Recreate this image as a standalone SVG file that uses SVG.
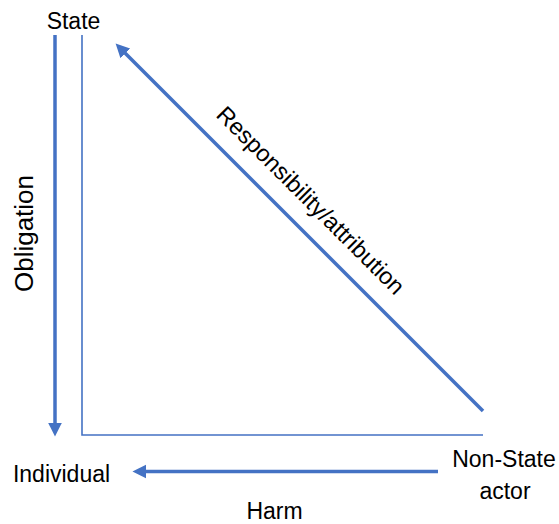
<svg xmlns="http://www.w3.org/2000/svg" width="559" height="524" viewBox="0 0 559 524">
  <style>
    .lbl { font-family: "Liberation Sans", Arial, sans-serif; font-size: 23px; fill: #000000; }
    .arrow { stroke: #4472C4; stroke-width: 3.5; fill: none; }
    .axis { stroke: #4472C4; stroke-width: 1.6; fill: none; }
  </style>
  <defs>
    <marker id="head" markerUnits="userSpaceOnUse" markerWidth="16" markerHeight="16" viewBox="0 -7 14 14" refX="1" refY="0" orient="auto">
      <path d="M0,-6 L12,0 L0,6 z" fill="#4472C4"/>
    </marker>
  </defs>
  <g id="axes">
    <polyline class="axis" points="82,35 82,435 483,435"/>
  </g>
  <g id="connectors">
    <line id="obligation-arrow" class="arrow" x1="55" y1="35" x2="55" y2="424" marker-end="url(#head)"/>
    <line id="responsibility-arrow" class="arrow" x1="483" y1="411" x2="124.5" y2="52.5" marker-end="url(#head)"/>
    <line id="harm-arrow" class="arrow" x1="438" y1="471.5" x2="145" y2="471.5" marker-end="url(#head)"/>
  </g>
  <g id="node-state">
    <text class="lbl" x="73.5" y="29" text-anchor="middle">State</text>
  </g>
  <g id="node-individual">
    <text class="lbl" x="61.5" y="482" text-anchor="middle">Individual</text>
  </g>
  <g id="node-nonstate">
    <text class="lbl" x="504" y="467" text-anchor="middle">Non-State</text>
    <text class="lbl" x="505" y="499" text-anchor="middle">actor</text>
  </g>
  <g id="label-obligation">
    <text class="lbl" style="font-size:26px" x="0" y="0" text-anchor="middle" transform="translate(32.5,233.5) rotate(-90)">Obligation</text>
  </g>
  <g id="label-responsibility">
    <text class="lbl" style="font-size:23.5px" x="0" y="0" text-anchor="middle" transform="translate(305,206) rotate(45)">Responsibility/attribution</text>
  </g>
  <g id="label-harm">
    <text class="lbl" x="274.5" y="519" text-anchor="middle">Harm</text>
  </g>
</svg>
